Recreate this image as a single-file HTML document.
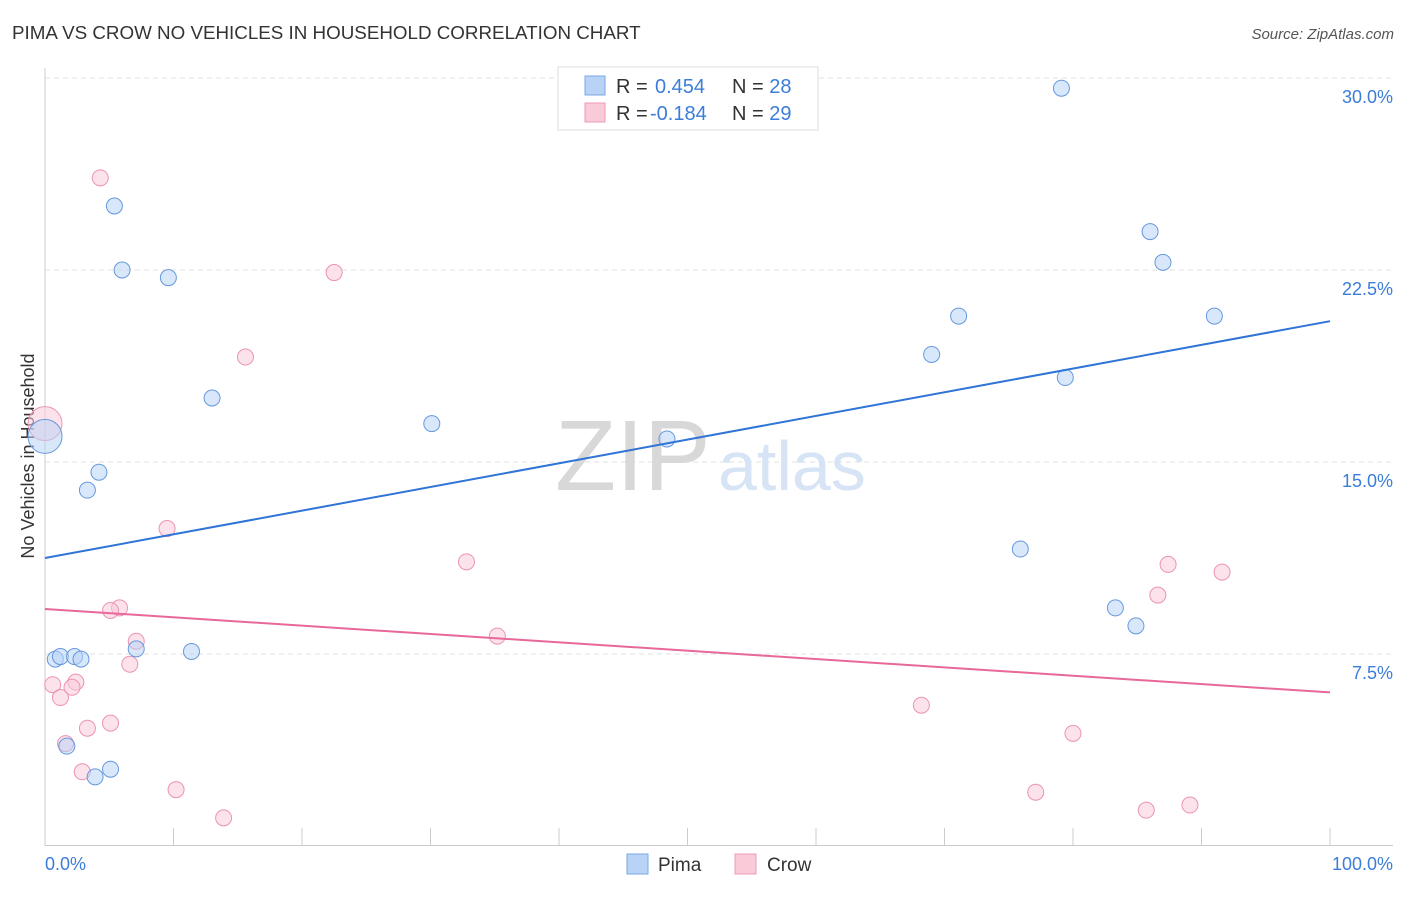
<!DOCTYPE html>
<html><head><meta charset="utf-8">
<style>
body{margin:0;background:#fff;font-family:"Liberation Sans",sans-serif;}
svg text{font-family:"Liberation Sans",sans-serif;}
</style></head>
<body>
<svg id="chart" width="1406" height="892">
<text x="12" y="39" font-size="18.8" fill="#333">PIMA VS CROW NO VEHICLES IN HOUSEHOLD CORRELATION CHART</text>
<text x="1394" y="39" font-size="15" fill="#555" text-anchor="end" font-style="italic">Source: ZipAtlas.com</text>
<g id="grid"></g>
<g id="axes"></g>
<text x="555" y="490" font-size="100" fill="#d8d8d8" font-family="Liberation Serif">ZIP</text>
<text x="718" y="490" font-size="70" fill="#d6e4f5">atlas</text>
<text transform="translate(34,456) rotate(-90)" font-size="18" fill="#333" text-anchor="middle">No Vehicles in Household</text>
<g id="marks"></g>
<g>
<rect x="558" y="67" width="260" height="63" fill="#fff" stroke="#ddd"/>
<rect x="585" y="76" width="20" height="19" fill="#b8d3f5" stroke="#7aaae8"/>
<rect x="585" y="103" width="20" height="19" fill="#f9cad8" stroke="#ef9ab4"/>
<text x="616" y="93" font-size="20" fill="#333">R = <tspan fill="#3b7dd8" x="655">0.454</tspan><tspan x="732" fill="#333">N = </tspan><tspan fill="#3b7dd8">28</tspan></text>
<text x="616" y="120" font-size="20" fill="#333">R = <tspan fill="#3b7dd8" x="650">-0.184</tspan><tspan x="732" fill="#333">N = </tspan><tspan fill="#3b7dd8">29</tspan></text>
</g>
<g>
<rect x="627" y="854" width="21" height="20" fill="#b8d3f5" stroke="#7aaae8"/>
<text x="658" y="871" font-size="19" fill="#333">Pima</text>
<rect x="735" y="854" width="21" height="20" fill="#f9cad8" stroke="#ef9ab4"/>
<text x="767" y="871" font-size="19" fill="#333">Crow</text>
</g>
</svg>
<script>
const yTicks=[7.5,15,22.5,30];
const yTickLabels=["7.5%","15.0%","22.5%","30.0%"];
const xTickLabels=["0.0%","100.0%"];
const pimaX=[79.1,5.4,6.0,9.6,86.0,87.0,91.0,71.1,69.0,79.4,13.0,30.1,48.4,0,4.2,3.3,75.9,83.3,84.9,7.1,11.4,0.8,1.2,2.3,2.8,1.7,5.1,3.9];
const pimaY=[29.6,25.0,22.5,22.2,24.0,22.8,20.7,20.7,19.2,18.3,17.5,16.5,15.9,16.0,14.6,13.9,11.6,9.3,8.6,7.7,7.6,7.3,7.4,7.4,7.3,3.9,3.0,2.7];
const pimaSize=[8,8,8,8,8,8,8,8,8,8,8,8,8,17,8,8,8,8,8,8,8,8,8,8,8,8,8,8];
const crowX=[4.3,22.5,15.6,0,9.5,32.8,87.4,91.6,86.6,5.8,5.1,35.2,7.1,6.6,0.6,2.4,2.1,1.2,68.2,5.1,3.3,1.6,80.0,2.9,10.2,77.1,13.9,85.7,89.1];
const crowY=[26.1,22.4,19.1,16.5,12.4,11.1,11.0,10.7,9.8,9.3,9.2,8.2,8.0,7.1,6.3,6.4,6.2,5.8,5.5,4.8,4.6,4.0,4.4,2.9,2.2,2.1,1.1,1.4,1.6];
const crowSize=[8,8,8,17,8,8,8,8,8,8,8,8,8,8,8,8,8,8,8,8,8,8,8,8,8,8,8,8,8];
const pimaTrend=[11.25,20.5];
const crowTrend=[9.26,6.0];

const NS="http://www.w3.org/2000/svg";
const X=v=>45+v/100*1285;
const Y=v=>846-v/30*768;
function mk(tag,attrs,parent){const e=document.createElementNS(NS,tag);for(const k in attrs)e.setAttribute(k,attrs[k]);parent.appendChild(e);return e;}
const grid=document.getElementById('grid'),axes=document.getElementById('axes'),marks=document.getElementById('marks');
yTicks.forEach((t,i)=>{
  const l=mk('line',{x1:45,x2:1393,y1:Y(t),y2:Y(t),stroke:'#e2e2e2','stroke-dasharray':'5,4'},grid);
  
  
  const tx=mk('text',{x:1393,y:Y(t)+25,'font-size':18,fill:'#3b7dd8','text-anchor':'end'},axes);
  tx.textContent=yTickLabels[i];
  
  
});
mk('line',{x1:45,x2:45,y1:68,y2:846,stroke:'#ccc'},axes);
mk('line',{x1:45,x2:1393,y1:845.5,y2:845.5,stroke:'#ccc'},axes);
for(let i=0;i<=10;i++){mk('line',{x1:X(i*10),x2:X(i*10),y1:828,y2:846,stroke:'#ccc'},axes);}
const xl0=mk('text',{x:45,y:870,'font-size':18,fill:'#3b7dd8'},axes);xl0.textContent=xTickLabels[0];


const xl1=mk('text',{x:1393,y:870,'font-size':18,fill:'#3b7dd8','text-anchor':'end'},axes);xl1.textContent=xTickLabels[1];


function series(xs,ys,ss,fill,stroke,name){
  xs.forEach((x,i)=>{
    const c=mk('circle',{cx:X(x),cy:Y(ys[i]),r:ss[i],fill:fill,'fill-opacity':0.55,stroke:stroke,'stroke-width':1},marks);
    
    
  });
}
series(crowX,crowY,crowSize,'#f9cad8','#ec93b0','crow');
series(pimaX,pimaY,pimaSize,'#b8d3f5','#6699dd','pima');
const pl=mk('line',{x1:X(0),y1:Y(pimaTrend[0]),x2:X(100),y2:Y(pimaTrend[1]),stroke:'#2f74d6','stroke-width':2},marks);


const cl=mk('line',{x1:X(0),y1:Y(crowTrend[0]),x2:X(100),y2:Y(crowTrend[1]),stroke:'#e8689a','stroke-width':2},marks);


</script>
</body></html>
